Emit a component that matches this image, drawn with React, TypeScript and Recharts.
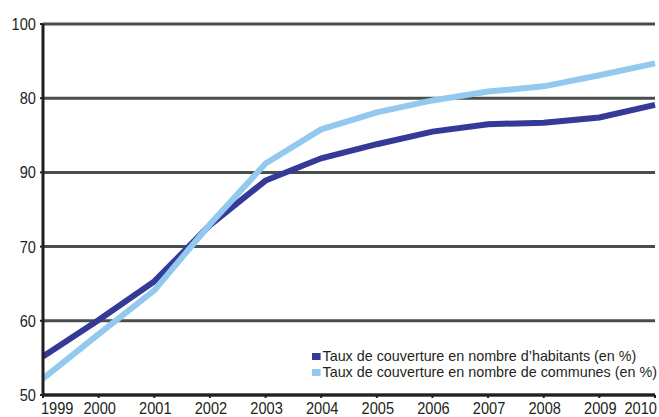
import { LineChart, Line, XAxis, YAxis, CartesianGrid } from "recharts";

const years = ["1999", "2000", "2001", "2002", "2003", "2004", "2005", "2006", "2007", "2008", "2009", "2010"];
const habitants = [55.2, 60.1, 65.3, 72.9, 78.9, 81.9, 83.8, 85.5, 86.5, 86.7, 87.4, 89.1];
const communes = [52.2, 58.2, 64.1, 73.0, 81.2, 85.8, 88.1, 89.7, 90.9, 91.6, 93.1, 94.7];
const yTicks = [50, 60, 70, 80, 90, 100];
// labels as printed in the source (80 and 90 swapped)
const yTickLabels = ["50", "60", "70", "90", "80", "100"];

const seriesNames = [
  "Taux de couverture en nombre d\u2019habitants (en %)",
  "Taux de couverture en nombre de communes (en %)",
];
const DARK = "#353a98";
const LIGHT = "#93c9ee";
const INK = "#231f20";

const data = years.map((year, i) => ({
  year,
  habitants: habitants[i],
  communes: communes[i],
}));

const FONT = "'Liberation Sans', Arial, sans-serif";
const SX = 0.86; // squeeze the text to look like a condensed face

const XTick = (props: any) => {
  const { x, y, payload, index } = props;
  const last = index === years.length - 1;
  const anchor = index === 0 ? "start" : last ? "end" : "middle";
  const tx = index === 0 ? x - 2 : last ? x + 2 : x + 1;
  return (
    <text
      x={tx / SX}
      y={y + 14}
      transform={`scale(${SX} 1)`}
      textAnchor={anchor}
      fill={INK}
      fontSize={17}
      fontFamily={FONT}
    >
      {payload.value}
    </text>
  );
};

const YTick = (props: any) => {
  const { x, y, payload } = props;
  return (
    <text
      x={(x - 2) / SX}
      y={y + 6}
      transform={`scale(${SX} 1)`}
      textAnchor="end"
      fill={INK}
      fontSize={17}
      fontFamily={FONT}
    >
      {yTickLabels[yTicks.indexOf(payload.value)]}
    </text>
  );
};

export default function App() {
  return (
    <div style={{ position: "absolute", top: 0, left: 0, width: 659, height: 417, background: "#fff" }}>
      <LineChart width={659} height={417} data={data} margin={{ top: 24, right: 4, bottom: 0, left: 0 }}>
        <CartesianGrid vertical={false} stroke="#474e4d" strokeWidth={3} />
        <XAxis
          dataKey="year"
          padding={{ left: 0, right: 0 }}
          height={22}
          tickSize={3}
          axisLine={{ stroke: INK, strokeWidth: 3 }}
          tickLine={{ stroke: INK, strokeWidth: 2 }}
          tick={<XTick />}
          interval={0}
        />
        <YAxis
          domain={[50, 100]}
          ticks={yTicks}
          width={43}
          tickSize={3}
          axisLine={{ stroke: INK, strokeWidth: 3 }}
          tickLine={{ stroke: INK, strokeWidth: 2 }}
          tick={<YTick />}
        />
        <Line
          type="linear"
          dataKey="habitants"
          stroke={DARK}
          strokeWidth={6}
          dot={false}
          isAnimationActive={false}
        />
        <Line
          type="linear"
          dataKey="communes"
          stroke={LIGHT}
          strokeWidth={6}
          dot={false}
          isAnimationActive={false}
        />
      </LineChart>
      <div
        style={{
          position: "absolute",
          left: 312,
          top: 348,
          fontFamily: FONT,
          fontSize: 15,
          color: INK,
          lineHeight: "16px",
          transform: "scaleX(0.955)",
          transformOrigin: "left top",
        }}
      >
        {[DARK, LIGHT].map((c, i) => (
          <div key={i} style={{ display: "flex", alignItems: "center", whiteSpace: "nowrap" }}>
            <span style={{ display: "inline-block", width: 9, height: 7, background: c, marginRight: 2 }} />
            {seriesNames[i]}
          </div>
        ))}
      </div>
    </div>
  );
}
